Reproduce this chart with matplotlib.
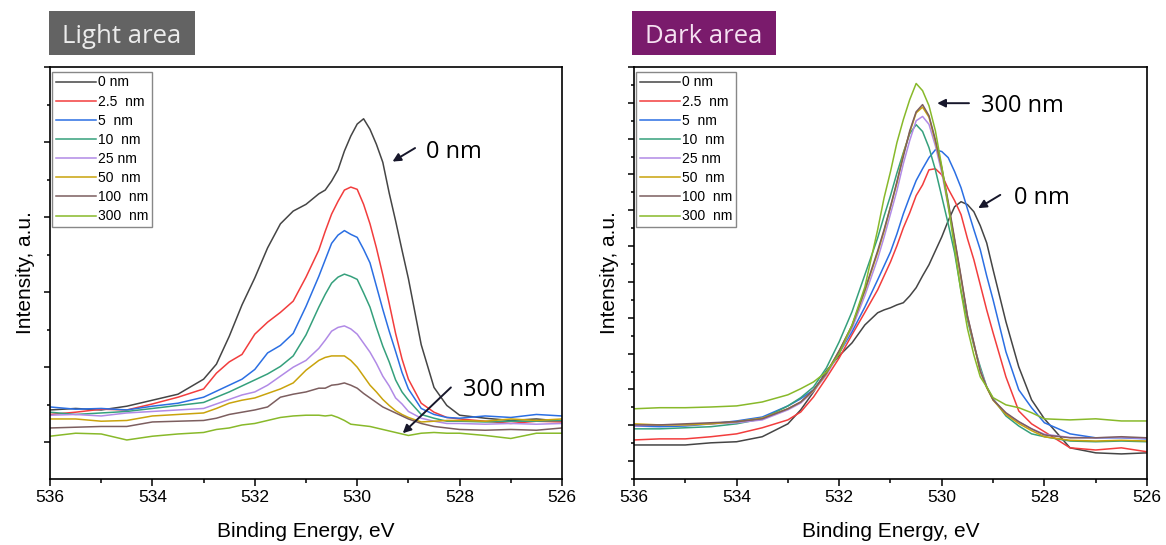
import numpy as np
import matplotlib
matplotlib.use('Agg')
import matplotlib.pyplot as plt
from matplotlib.patches import Rectangle
from matplotlib.ticker import MultipleLocator

plt.rcParams['font.family'] = ['Liberation Sans', 'DejaVu Sans']

# ---- data (binding energy in eV, intensity in a.u.) ----
labels = ['0 nm', '2.5  nm', '5  nm', '10  nm', '25 nm', '50  nm', '100  nm', '300  nm']
colors = ['#454545', '#f23d3d', '#2b6fe3', '#35a07c', '#b18ae6', '#c9a30c', '#7c5e5f', '#88b92a']

energy_light = [536, 535.5, 535, 534.5, 534, 533.5, 533, 532.75, 532.5, 532.25, 532, 531.75,
                531.5, 531.25, 531, 530.75, 530.625, 530.5, 530.375, 530.25, 530.125, 530,
                529.875, 529.75, 529.625, 529.5, 529.375, 529.25, 529.125, 529, 528.75, 528.5,
                528.25, 528, 527.5, 527, 526.5, 526]

light_0 = [0.43, 0.45, 0.43, 0.48, 0.56, 0.64, 0.84, 1.04, 1.41, 1.83, 2.19, 2.59, 2.91, 3.08,
           3.17, 3.31, 3.36, 3.48, 3.63, 3.88, 4.08, 4.24, 4.31, 4.17, 3.97, 3.73, 3.32, 2.95,
           2.56, 2.18, 1.30, 0.73, 0.49, 0.36, 0.32, 0.29, 0.31, 0.28]
light_2_5 = [0.37, 0.40, 0.44, 0.43, 0.51, 0.60, 0.71, 0.92, 1.07, 1.17, 1.44, 1.60, 1.73, 1.88,
             2.20, 2.56, 2.81, 3.04, 3.21, 3.36, 3.40, 3.37, 3.17, 2.91, 2.59, 2.23, 1.85, 1.45,
             1.11, 0.84, 0.52, 0.40, 0.33, 0.31, 0.28, 0.25, 0.28, 0.27]
light_5 = [0.47, 0.44, 0.45, 0.43, 0.48, 0.52, 0.60, 0.68, 0.76, 0.84, 0.97, 1.19, 1.29, 1.45,
           1.81, 2.21, 2.43, 2.65, 2.76, 2.82, 2.77, 2.73, 2.57, 2.39, 2.08, 1.77, 1.48, 1.21,
           0.93, 0.71, 0.45, 0.37, 0.33, 0.32, 0.35, 0.33, 0.37, 0.35]
light_10 = [0.40, 0.37, 0.39, 0.41, 0.45, 0.49, 0.53, 0.60, 0.67, 0.75, 0.83, 0.91, 1.01, 1.15,
            1.43, 1.80, 1.97, 2.12, 2.20, 2.24, 2.21, 2.17, 1.99, 1.80, 1.53, 1.28, 1.07, 0.83,
            0.67, 0.56, 0.37, 0.32, 0.28, 0.28, 0.27, 0.28, 0.28, 0.29]
light_25 = [0.36, 0.37, 0.35, 0.39, 0.41, 0.43, 0.45, 0.51, 0.57, 0.63, 0.67, 0.76, 0.88, 1.00,
            1.09, 1.25, 1.36, 1.48, 1.53, 1.55, 1.51, 1.44, 1.32, 1.20, 1.05, 0.88, 0.75, 0.59,
            0.51, 0.41, 0.32, 0.28, 0.25, 0.25, 0.24, 0.25, 0.24, 0.25]
light_50 = [0.31, 0.31, 0.28, 0.29, 0.35, 0.37, 0.39, 0.45, 0.52, 0.56, 0.59, 0.65, 0.71, 0.79,
            0.96, 1.09, 1.13, 1.15, 1.15, 1.15, 1.09, 1.00, 0.88, 0.76, 0.67, 0.57, 0.49, 0.42,
            0.37, 0.33, 0.27, 0.28, 0.29, 0.29, 0.28, 0.31, 0.29, 0.31]
light_100 = [0.19, 0.20, 0.21, 0.21, 0.27, 0.28, 0.29, 0.32, 0.37, 0.40, 0.43, 0.47, 0.60, 0.64,
             0.67, 0.72, 0.72, 0.76, 0.77, 0.79, 0.76, 0.72, 0.65, 0.59, 0.53, 0.47, 0.43, 0.39,
             0.35, 0.31, 0.25, 0.21, 0.19, 0.17, 0.16, 0.17, 0.16, 0.19]
light_300 = [0.08, 0.12, 0.11, 0.03, 0.08, 0.11, 0.13, 0.17, 0.19, 0.23, 0.25, 0.29, 0.33, 0.35,
             0.36, 0.36, 0.35, 0.36, 0.33, 0.29, 0.24, 0.23, 0.22, 0.21, 0.19, 0.17, 0.15, 0.13,
             0.11, 0.09, 0.12, 0.13, 0.12, 0.12, 0.09, 0.05, 0.12, 0.12]

energy_dark = [536, 535.5, 535, 534.5, 534, 533.5, 533, 532.75, 532.5, 532.25, 532, 531.75,
               531.5, 531.25, 531.125, 531, 530.875, 530.75, 530.625, 530.5, 530.375, 530.25,
               530.125, 530, 529.875, 529.75, 529.625, 529.5, 529.375, 529.25, 529.125, 529,
               528.75, 528.5, 528.25, 528, 527.5, 527, 526.5, 526]

dark_0 = [0.45, 0.45, 0.45, 0.51, 0.54, 0.68, 1.04, 1.43, 1.93, 2.52, 2.94, 3.30, 3.80, 4.14,
          4.22, 4.28, 4.36, 4.42, 4.61, 4.84, 5.17, 5.48, 5.87, 6.26, 6.71, 7.10, 7.24, 7.16,
          6.96, 6.57, 6.09, 5.34, 3.89, 2.63, 1.71, 1.18, 0.37, 0.23, 0.20, 0.23]
dark_2_5 = [0.59, 0.62, 0.62, 0.68, 0.76, 0.93, 1.15, 1.37, 1.79, 2.32, 2.88, 3.53, 4.15, 4.78,
            5.17, 5.56, 6.01, 6.51, 6.93, 7.41, 7.71, 8.13, 8.16, 7.99, 7.60, 7.27, 6.88, 6.21,
            5.62, 4.92, 4.22, 3.58, 2.35, 1.40, 1.04, 0.82, 0.37, 0.31, 0.37, 0.26]
dark_5 = [0.98, 0.96, 0.98, 1.04, 1.12, 1.23, 1.54, 1.74, 1.99, 2.46, 3.02, 3.61, 4.30, 5.06,
          5.45, 5.84, 6.34, 6.90, 7.38, 7.83, 8.16, 8.47, 8.69, 8.64, 8.47, 8.08, 7.63, 7.04,
          6.46, 5.90, 5.17, 4.50, 3.05, 1.99, 1.49, 1.07, 0.76, 0.65, 0.65, 0.62]
dark_10 = [0.90, 0.90, 0.93, 0.96, 1.04, 1.18, 1.54, 1.77, 2.07, 2.60, 3.33, 4.17, 5.20, 6.23,
           6.84, 7.41, 8.04, 8.61, 9.14, 9.39, 9.20, 8.75, 8.13, 7.38, 6.62, 5.81, 4.75, 3.94,
           3.22, 2.63, 2.07, 1.74, 1.26, 0.98, 0.76, 0.68, 0.56, 0.54, 0.56, 0.54]
dark_25 = [0.98, 1.01, 1.01, 1.04, 1.07, 1.15, 1.43, 1.62, 1.95, 2.40, 3.02, 3.70, 4.62, 5.65,
           6.25, 6.90, 7.55, 8.30, 8.95, 9.50, 9.62, 9.40, 8.80, 8.05, 7.10, 6.15, 5.10, 4.05,
           3.28, 2.55, 2.08, 1.72, 1.32, 1.10, 0.90, 0.75, 0.66, 0.65, 0.66, 0.63]
dark_50 = [1.04, 1.01, 1.01, 1.04, 1.10, 1.20, 1.46, 1.65, 1.97, 2.44, 3.08, 3.78, 4.75, 5.82,
           6.42, 7.10, 7.76, 8.57, 9.18, 9.72, 9.88, 9.60, 8.92, 8.15, 7.18, 6.15, 5.10, 4.02,
           3.26, 2.50, 2.05, 1.70, 1.30, 1.05, 0.85, 0.68, 0.58, 0.56, 0.58, 0.56]
dark_100 = [1.01, 1.01, 1.04, 1.07, 1.10, 1.18, 1.46, 1.65, 1.99, 2.46, 3.08, 3.78, 4.78, 5.87,
            6.46, 7.10, 7.80, 8.50, 9.22, 9.75, 9.95, 9.64, 8.97, 8.19, 7.24, 6.20, 5.15, 4.05,
            3.30, 2.51, 2.07, 1.71, 1.35, 1.10, 0.90, 0.73, 0.65, 0.65, 0.68, 0.65]
dark_300 = [1.46, 1.49, 1.49, 1.51, 1.54, 1.65, 1.85, 2.02, 2.21, 2.49, 2.99, 3.80, 4.86, 6.46,
            7.35, 8.08, 8.89, 9.53, 10.09, 10.54, 10.34, 9.92, 9.22, 8.22, 7.13, 5.93, 4.72,
            3.70, 2.96, 2.35, 2.07, 1.77, 1.57, 1.49, 1.35, 1.18, 1.15, 1.18, 1.12, 1.12]

light_series = [light_0, light_2_5, light_5, light_10, light_25, light_50, light_100, light_300]
dark_series = [dark_0, dark_2_5, dark_5, dark_10, dark_25, dark_50, dark_100, dark_300]

W, H = 1166, 545
fig = plt.figure(figsize=(W / 100, H / 100), dpi=100)
ax1 = fig.add_axes([50 / W, 1 - 479 / H, 512 / W, 412 / H])
ax2 = fig.add_axes([634 / W, 1 - 479 / H, 513 / W, 412 / H])


def style_axes(ax, ylim):
    ax.set_xlim(536, 526)
    ax.set_ylim(*ylim)
    ax.xaxis.set_major_locator(MultipleLocator(2))
    ax.xaxis.set_minor_locator(MultipleLocator(1))
    ax.yaxis.set_major_locator(MultipleLocator(1))
    ax.yaxis.set_minor_locator(MultipleLocator(0.5))
    ax.tick_params(axis='x', which='major', direction='out', length=5, width=1.1,
                   labelsize=12.5, pad=3)
    ax.tick_params(axis='x', which='minor', direction='out', length=3, width=1.1)
    ax.tick_params(axis='y', which='major', direction='out', length=4, width=1.1,
                   labelleft=False)
    ax.tick_params(axis='y', which='minor', direction='out', length=2.5, width=1.1)
    for s in ax.spines.values():
        s.set_linewidth(1.2)
    ax.set_xlabel('Binding Energy, eV', fontsize=15, labelpad=12)
    ax.set_ylabel('Intensity, a.u.', fontsize=15, labelpad=5)


for ax, energy, series in [(ax1, energy_light, light_series), (ax2, energy_dark, dark_series)]:
    for y, lab, c in zip(series, labels, colors):
        ax.plot(energy, y, color=c, lw=1.1, label=lab)
    ax.legend(loc='upper left', bbox_to_anchor=(0.004, 0.988), borderaxespad=0,
              fontsize=10, handlelength=2.9, handletextpad=0.15, labelspacing=0.37,
              borderpad=0.25, fancybox=False, framealpha=1, edgecolor='#888888')

style_axes(ax1, (-0.49, 5.0))
style_axes(ax2, (-0.5, 11.0))

arrow = dict(arrowstyle='-|>', color='#17172b', lw=1.4, mutation_scale=12, shrinkA=0, shrinkB=0)
note_font = dict(fontsize=17, family=['Open Sans', 'DejaVu Sans'], ha='left', va='baseline')

ax1.annotate('', xy=(529.31, 3.74), xytext=(528.87, 3.92), arrowprops=arrow)
ax1.text(528.66, 3.79, '0 nm', **note_font)
ax1.annotate('', xy=(529.11, 0.12), xytext=(528.17, 0.73), arrowprops=arrow)
ax1.text(527.93, 0.61, '300 nm', **note_font)

ax2.annotate('', xy=(530.09, 9.99), xytext=(529.47, 9.99), arrowprops=arrow)
ax2.text(529.24, 9.75, '300 nm', **note_font)
ax2.annotate('', xy=(529.29, 7.06), xytext=(528.86, 7.43), arrowprops=arrow)
ax2.text(528.59, 7.17, '0 nm', **note_font)

# panel tags
fig.add_artist(Rectangle((49 / W, 1 - 55 / H), 146 / W, 44 / H, transform=fig.transFigure,
                         facecolor='#636363', edgecolor='none'))
fig.text(122 / W, 1 - 43 / H, 'Light area', color='#ececec', fontsize=18.5,
         family=['Open Sans', 'DejaVu Sans'], ha='center', va='baseline')
fig.add_artist(Rectangle((632 / W, 1 - 55 / H), 144 / W, 44 / H, transform=fig.transFigure,
                         facecolor='#7a1b6c', edgecolor='none'))
fig.text(704 / W, 1 - 43 / H, 'Dark area', color='#f5e1f1', fontsize=18.5,
         family=['Open Sans', 'DejaVu Sans'], ha='center', va='baseline')

fig.savefig('out.png', dpi=100)
